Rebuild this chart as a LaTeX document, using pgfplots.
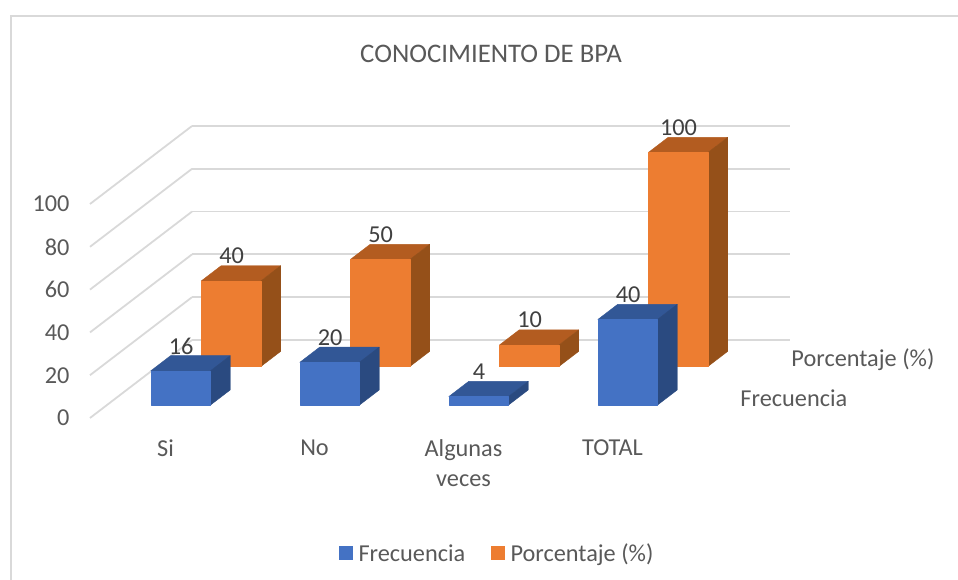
\documentclass[border=0pt]{standalone}
\usepackage{fontspec}
\setmainfont{Carlito}
\usepackage{pgfplots}
\pgfplotsset{compat=1.18}
\usepgfplotslibrary{patchplots}
\definecolor{azul}{HTML}{4472C4}
\definecolor{azultop}{HTML}{325796}
\definecolor{azulside}{HTML}{2A4A80}
\definecolor{naranja}{HTML}{ED7D31}
\definecolor{naranjatop}{HTML}{B35C20}
\definecolor{naranjaside}{HTML}{955019}
\definecolor{gridgris}{HTML}{D9D9D9}
\definecolor{textogris}{HTML}{595959}
\definecolor{datogris}{HTML}{404040}
\pgfplotsset{
  cara/.style={patch, patch type=rectangle, shader=flat, forget plot,
    colormap={c#1}{color=(#1) color=(#1)}},
  /pgfplots/legend image code/.code={
    \fill[#1, draw=none] (0pt,-7pt) rectangle (14pt,7pt);
    \path (17pt,0pt);},
}
\newcommand{\tx}{\fontsize{24.3}{30}\selectfont}

\begin{document}
\begin{tikzpicture}
\begin{axis}[
  x={(149pt,0pt)}, y={(51pt,39pt)}, z={(0pt,2.14pt)},
  xmin=0, xmax=4.013, ymin=0, ymax=2, zmin=0, zmax=100,
  point meta min=0, point meta max=100,
  clip=false,
  axis line style={draw=none},
  major tick length=0pt,
  zmajorgrids, grid style={gridgris, line width=1.8pt},
  xtick={0.5,1.5,2.5,3.5},
  xticklabels={Si,No,{Algunas\\veces},TOTAL},
  ytick={0.5,1.5},
  yticklabels={Frecuencia,Porcentaje (\%)},
  ztick={0,20,40,60,80,100},
  xtick pos=left, ytick pos=left,
  /pgf/number format/assume math mode=true,
  tick label style={font=\tx, text=textogris},
  x tick label style={align=center, anchor=north, xshift=1pt, yshift=-18pt},
  y tick label style={anchor=west, xshift=23.5pt},
  z tick label style={anchor=east, xshift=-17pt},
  legend columns=2,
  legend style={draw=none, fill=none, font=\tx, text=textogris,
    at={(axis description cs:0.582,-0.464)}, anchor=center,
    /tikz/every even column/.append style={column sep=24pt}},
]
\addlegendimage{fill=azul}
\addlegendentry{Frecuencia}
\addlegendimage{fill=naranja}
\addlegendentry{Porcentaje (\%)}

% Porcentaje: top, side, front (back series first)
\addplot3[cara=naranjatop] coordinates {
(0.295,1.32,40)(0.695,1.32,40)(0.695,1.71,40)(0.295,1.71,40)
(1.295,1.32,50)(1.695,1.32,50)(1.695,1.71,50)(1.295,1.71,50)
(2.295,1.32,10)(2.695,1.32,10)(2.695,1.71,10)(2.295,1.71,10)
(3.295,1.32,100)(3.695,1.32,100)(3.695,1.71,100)(3.295,1.71,100)};
\addplot3[cara=naranjaside] coordinates {
(0.695,1.32,0)(0.695,1.71,0)(0.695,1.71,40)(0.695,1.32,40)
(1.695,1.32,0)(1.695,1.71,0)(1.695,1.71,50)(1.695,1.32,50)
(2.695,1.32,0)(2.695,1.71,0)(2.695,1.71,10)(2.695,1.32,10)
(3.695,1.32,0)(3.695,1.71,0)(3.695,1.71,100)(3.695,1.32,100)};
\addplot3[cara=naranja] coordinates {
(0.295,1.32,0)(0.695,1.32,0)(0.695,1.32,40)(0.295,1.32,40)
(1.295,1.32,0)(1.695,1.32,0)(1.695,1.32,50)(1.295,1.32,50)
(2.295,1.32,0)(2.695,1.32,0)(2.695,1.32,10)(2.295,1.32,10)
(3.295,1.32,0)(3.695,1.32,0)(3.695,1.32,100)(3.295,1.32,100)};

% Frecuencia
\addplot3[cara=azultop] coordinates {
(0.295,0.33,16)(0.695,0.33,16)(0.695,0.72,16)(0.295,0.72,16)
(1.295,0.33,20)(1.695,0.33,20)(1.695,0.72,20)(1.295,0.72,20)
(2.295,0.33,4)(2.695,0.33,4)(2.695,0.72,4)(2.295,0.72,4)
(3.295,0.33,40)(3.695,0.33,40)(3.695,0.72,40)(3.295,0.72,40)};
\addplot3[cara=azulside] coordinates {
(0.695,0.33,0)(0.695,0.72,0)(0.695,0.72,16)(0.695,0.33,16)
(1.695,0.33,0)(1.695,0.72,0)(1.695,0.72,20)(1.695,0.33,20)
(2.695,0.33,0)(2.695,0.72,0)(2.695,0.72,4)(2.695,0.33,4)
(3.695,0.33,0)(3.695,0.72,0)(3.695,0.72,40)(3.695,0.33,40)};
\addplot3[cara=azul] coordinates {
(0.295,0.33,0)(0.695,0.33,0)(0.695,0.33,16)(0.295,0.33,16)
(1.295,0.33,0)(1.695,0.33,0)(1.695,0.33,20)(1.295,0.33,20)
(2.295,0.33,0)(2.695,0.33,0)(2.695,0.33,4)(2.295,0.33,4)
(3.295,0.33,0)(3.695,0.33,0)(3.695,0.33,40)(3.295,0.33,40)};

% data labels
\addplot3[draw=none, mark=none, forget plot, point meta=z, nodes near coords,
  every node near coord/.style={anchor=center, xshift=0.5pt, yshift=25pt, font=\tx, text=datogris}]
  coordinates {
(0.495,0.33,16)(1.495,0.33,20)(2.495,0.33,4)(3.495,0.33,40)
(0.495,1.32,40)(1.495,1.32,50)(2.495,1.32,10)(3.495,1.32,100)};

\coordinate (O) at (axis cs:0,0,0);
\end{axis}
\path[use as bounding box] ([shift={(-90pt,-162pt)}]O) rectangle ([shift={(868pt,418pt)}]O);
\draw[gridgris, line width=1.8pt] ([shift={(-79pt,-162pt)}]O) -- ([shift={(-79pt,402pt)}]O) -- ([shift={(868pt,402pt)}]O);
\node[font=\fontsize{26.8}{32}\selectfont, text=textogris] at ([shift={(401pt,364pt)}]O) {CONOCIMIENTO DE BPA};
\end{tikzpicture}
\end{document}
